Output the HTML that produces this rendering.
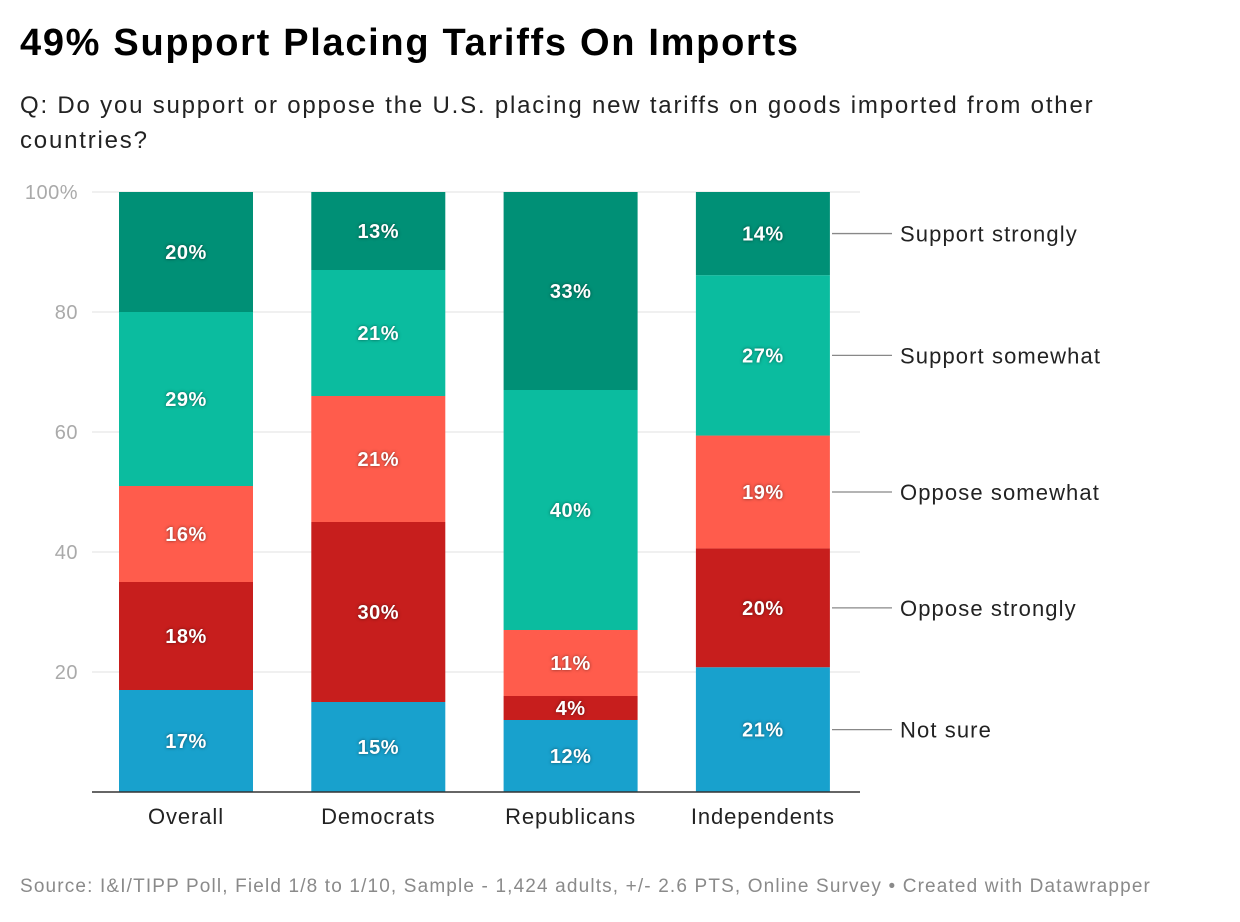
<!DOCTYPE html>
<html><head><meta charset="utf-8"><style>
body{margin:0;background:#fff;font-family:"Liberation Sans",Roboto,sans-serif;}
#wrap{position:relative;width:1240px;height:922px;overflow:hidden;}
h1{position:absolute;left:20px;top:22px;margin:0;font-size:38px;letter-spacing:1.7px;font-weight:bold;color:#000;}
.sub{position:absolute;left:20px;top:88px;width:1110px;font-size:24px;letter-spacing:1.8px;line-height:35px;color:#222;margin:0;}
.src{position:absolute;left:20px;top:876px;font-size:19px;letter-spacing:1.15px;color:#8a8a8a;white-space:nowrap;}
</style></head><body>
<div id="wrap">
<h1>49% Support Placing Tariffs On Imports</h1>
<p class="sub">Q: Do you support or oppose the U.S. placing new tariffs on goods imported from other countries?</p>
<svg id="chart" width="1240" height="922" style="position:absolute;left:0;top:0"></svg>
<div class="src">Source: I&amp;I/TIPP Poll, Field 1/8 to 1/10, Sample - 1,424 adults, +/- 2.6 PTS, Online Survey • Created with Datawrapper</div>
</div>
<script>
const categories=["Overall","Democrats","Republicans","Independents"];
const seriesNames=["Not sure","Oppose strongly","Oppose somewhat","Support somewhat","Support strongly"];
const notSure=[17,15,12,21];
const opposeStrongly=[18,30,4,20];
const opposeSomewhat=[16,21,11,19];
const supportSomewhat=[29,21,40,27];
const supportStrongly=[20,13,33,14];
const yTicks=[20,40,60,80,100];
const yTickLabels=["20","40","60","80","100%"];
const series=[notSure,opposeStrongly,opposeSomewhat,supportSomewhat,supportStrongly];
const colors=["#18a1cd","#c71e1d","#ff5c4c","#0bbc9f","#009076"];
const svg=document.getElementById('chart');const NS="http://www.w3.org/2000/svg";
function y(v){return 792-v*6;}
function x(i){return 119+i*192.3;}
const bw=134;
function mk(t,a,p){const e=document.createElementNS(NS,t);for(const k in a)e.setAttribute(k,a[k]);(p||svg).appendChild(e);return e;}
yTicks.forEach((t,i)=>{
 const g=mk('line',{x1:92,x2:860,y1:y(t),y2:y(t),stroke:'#e2e2e2','stroke-width':1});
 
 
 const l=mk('text',{x:78,y:y(t)+7,'text-anchor':'end','font-size':20,fill:'#aaa','letter-spacing':0.5});l.textContent=yTickLabels[i];
 
 
});
categories.forEach((c,i)=>{
 const total=series.reduce((s,a)=>s+a[i],0);
 let cum=0;
 series.forEach((a,j)=>{
  const v=a[i]*100/total;
  const r=mk('rect',{x:x(i),y:y(cum+v),width:bw,height:v*6,fill:colors[j]});
  
  
  const t=mk('text',{x:x(i)+bw/2,y:y(cum+v/2)+7,'text-anchor':'middle','font-size':20,'font-weight':'bold',fill:'#fff','letter-spacing':0.5,style:'text-shadow:0 0 3px rgba(0,0,0,0.5)'});
  t.textContent=a[i]+'%';
  
  
  if(i===categories.length-1){
   const my=y(cum+v/2);
   const ln=mk('line',{x1:832,x2:892,y1:my,y2:my,stroke:'#888','stroke-width':1.3});
   
   
   const lt=mk('text',{x:900,y:my+8,'font-size':22,fill:'#222','letter-spacing':1.1});lt.textContent=seriesNames[j];
   
   
  }
  cum+=v;
 });
 const xl=mk('text',{x:x(i)+bw/2,y:824,'text-anchor':'middle','font-size':22,fill:'#222','letter-spacing':0.9});xl.textContent=c;
 
 
});
const base=mk('line',{x1:92,x2:860,y1:792,y2:792,stroke:'#333','stroke-width':1.5});


</script>
</body></html>
